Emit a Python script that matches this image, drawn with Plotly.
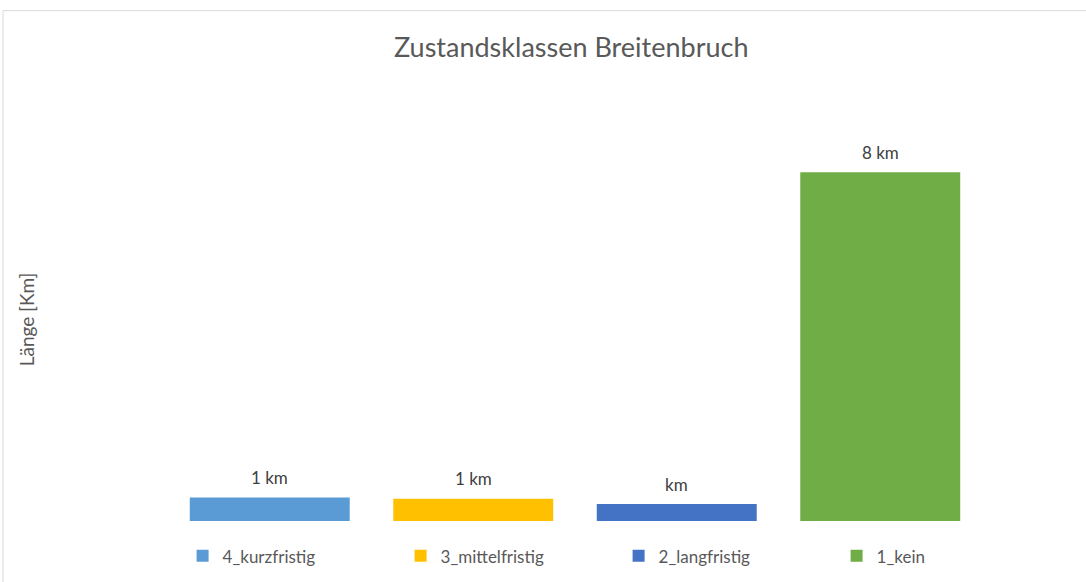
import plotly.graph_objects as go


# ---------------------------------
# DATA
# ---------------------------------

klassen = [
    "4_kurzfristig",
    "3_mittelfristig",
    "2_langfristig",
    "1_kein"
]

laenge_km = [0.54, 0.51, 0.39, 8.0]

label_text = ["1 km", "1 km", "km", "8 km"]

farben = ["#5B9BD5", "#FFC000", "#4472C4", "#70AD47"]


# ---------------------------------
# FIGURE
# ---------------------------------

fig = go.Figure()

for name, val, col in zip(klassen, laenge_km, farben):
    fig.add_trace(
        go.Bar(
            x=[name],
            y=[val],
            name=name,
            width=0.786,
            marker=dict(color=col, line_width=0),
            hovertemplate="<b>%{x}</b><br>%{y:.2f} km<extra></extra>"
        )
    )

# data labels above the bars
for name, val, txt in zip(klassen, laenge_km, label_text):
    fig.add_annotation(
        x=name,
        y=val,
        text=txt,
        showarrow=False,
        yanchor="middle",
        yshift=20,
        font=dict(size=17, color="#404040")
    )

# y axis title
fig.add_annotation(
    text="Länge [Km]",
    xref="paper", yref="paper",
    x=-0.1545, y=0.463,
    xanchor="center", yanchor="middle",
    textangle=-90,
    showarrow=False,
    font=dict(size=19, color="#595959")
)

# chart frame (partly cut off like the original)
fig.add_shape(
    type="rect",
    xref="paper", yref="paper",
    x0=-0.1797, x1=1.3,
    y0=-0.5, y1=1.1705,
    line=dict(color="#D9D9D9", width=1),
    layer="below"
)

fig.update_layout(

    width=1086,
    height=582,

    barmode="overlay",

    paper_bgcolor="white",
    plot_bgcolor="white",

    font=dict(family="Lato, sans-serif", color="#595959"),

    title=dict(
        text="Zustandsklassen Breitenbruch",
        x=0.526,
        xanchor="center",
        y=0.919,
        yanchor="middle",
        font=dict(size=27, color="#595959")
    ),

    # right margin kept at 0 so the legend row has room;
    # the bar area is narrowed through the x axis domain
    margin=dict(l=168, r=0, t=84.5, b=60.5),

    showlegend=True,

    legend=dict(
        orientation="h",
        x=0.0159,
        xanchor="left",
        y=-0.081,
        yanchor="middle",
        entrywidth=173,
        entrywidthmode="pixels",
        bgcolor="rgba(0,0,0,0)",
        font=dict(size=17, color="#595959")
    )
)

fig.update_xaxes(
    domain=[0, 0.8867],
    range=[-0.5, 3.5],
    showticklabels=False,
    showgrid=False,
    zeroline=False,
    showline=False
)

fig.update_yaxes(
    range=[0, 10],
    showticklabels=False,
    showgrid=False,
    zeroline=False,
    showline=False
)

fig.write_html(
    "out.html",
    config={"displayModeBar": False},
    post_script="document.body.style.margin='0';"
)
